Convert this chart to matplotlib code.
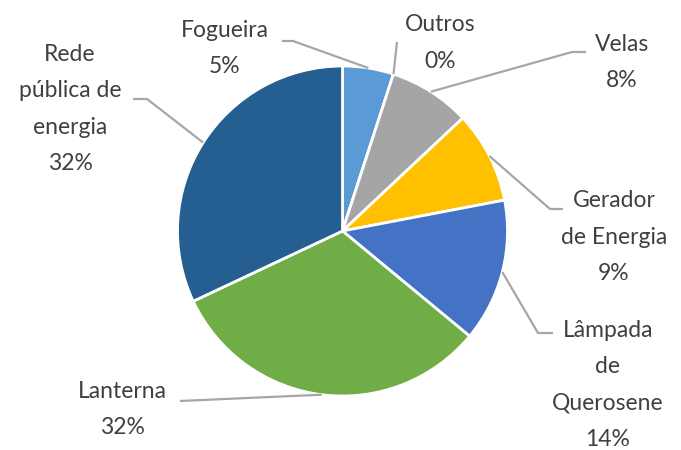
import numpy as np
import matplotlib
matplotlib.use("Agg")
import matplotlib.pyplot as plt

categories = ["Fogueira", "Outros", "Velas", "Gerador\nde Energia",
              "Lâmpada\nde\nQuerosene", "Lanterna", "Rede\npública de\nenergia"]
values = [5, 0, 8, 9, 14, 32, 32]
pct_labels = ["5%", "0%", "8%", "9%", "14%", "32%", "32%"]
colors = ["#5B9BD5", "#264478", "#A5A5A5", "#FFC000", "#4472C4", "#70AD47", "#255E91"]

W, H = 681, 450
fig = plt.figure(figsize=(W / 100, H / 100), dpi=100)
ax = fig.add_axes([0, 0, 1, 1])

def Y(y):
    return H - y

cx, cy, R = 342.5, Y(231), 165
ax.pie(values, colors=colors, startangle=90, counterclock=False,
       center=(cx, cy), radius=R, frame=True,
       wedgeprops=dict(edgecolor="white", linewidth=2.0))
ax.set_xlim(0, W)
ax.set_ylim(0, H)
ax.set_aspect("equal")
ax.axis("off")

# label layout: text center (x, y in image px), leader polyline start points
text_pos = [(225, 48.5), (440, 43), (622, 62.5), (614, 237),
            (608, 385), (122, 409.5), (70, 109)]
leader_pts = [[(282, 41), (293, 41)],
              [(397, 42)],
              [(586, 52), (572, 52)],
              [(563, 209), (550, 209)],
              [(553, 333), (538, 333)],
              [(180, 401)],
              [(133, 99), (147, 99)]]

total = float(sum(values))
cum = np.cumsum([0] + values[:-1])
for i, (cat, v) in enumerate(zip(categories, values)):
    frac = (cum[i] + v / 2.0) / total
    th = np.deg2rad(90 - 360 * frac)
    ax_pt = (cx + R * np.cos(th), cy + R * np.sin(th))
    pts = [(x, Y(y)) for x, y in leader_pts[i]] + [ax_pt]
    xs, ys = zip(*pts)
    ax.plot(xs, ys, color="#A6A6A6", lw=1.6, solid_capstyle="butt", zorder=1)
    tx, ty = text_pos[i]
    ax.text(tx, Y(ty), cat + "\n" + pct_labels[i], ha="center", va="center",
            fontsize=16.5, family="Lato", color="#404040", linespacing=1.92,
            multialignment="center")

fig.savefig("out.png", dpi=100)
